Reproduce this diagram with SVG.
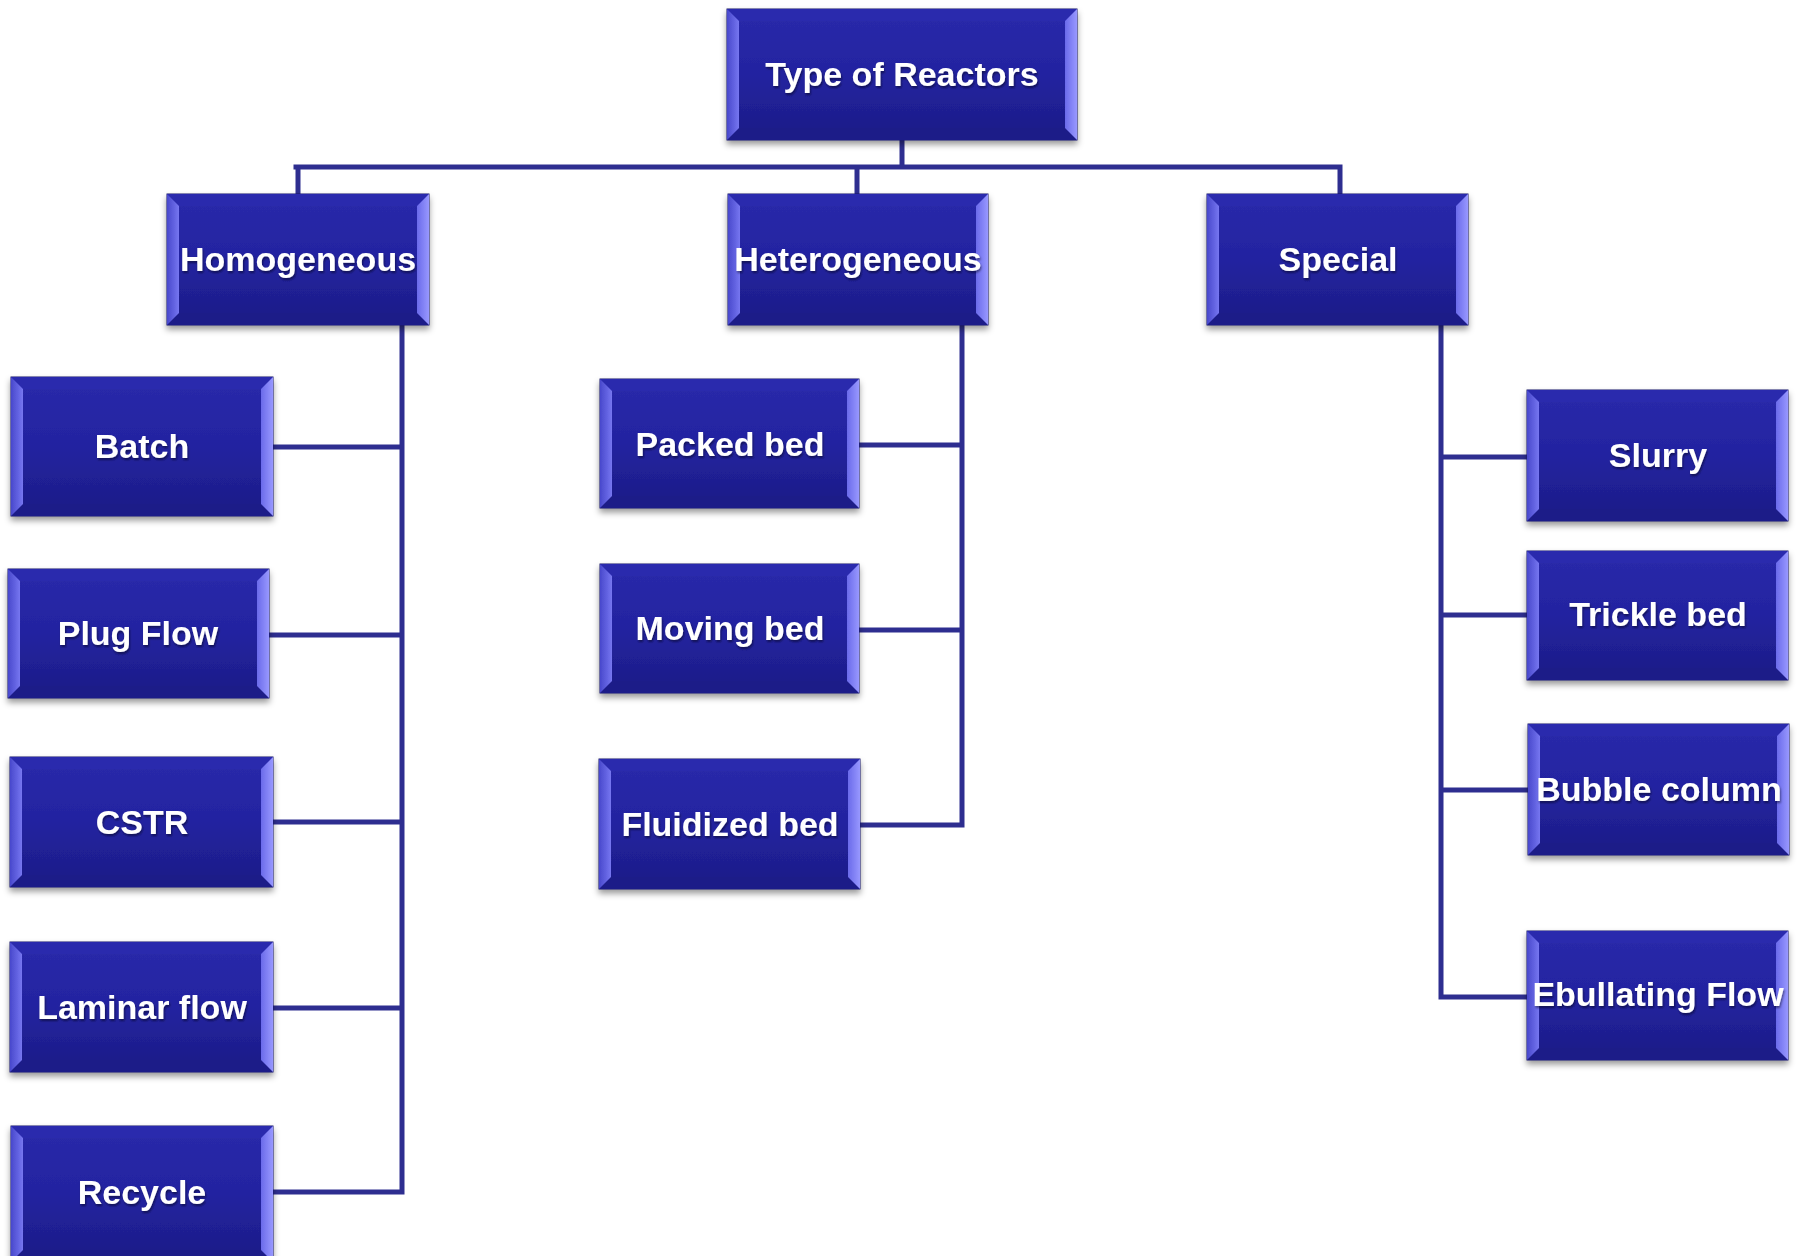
<svg xmlns="http://www.w3.org/2000/svg" width="1806" height="1256" viewBox="0 0 1806 1256">
<defs>
<linearGradient id="body" x1="0" y1="0" x2="0" y2="1">
<stop offset="0" stop-color="#2a2aaa"/>
<stop offset="0.5" stop-color="#2323a0"/>
<stop offset="1" stop-color="#1c1c86"/>
</linearGradient>
<linearGradient id="lbev" x1="0" y1="0" x2="1" y2="0">
<stop offset="0" stop-color="#4848cc"/>
<stop offset="1" stop-color="#7676f0"/>
</linearGradient>
<linearGradient id="rbev" x1="0" y1="0" x2="1" y2="0">
<stop offset="0" stop-color="#6a6aea"/>
<stop offset="1" stop-color="#9898ff"/>
</linearGradient>
<filter id="sh" x="-10%" y="-10%" width="120%" height="130%">
<feDropShadow dx="0" dy="4" stdDeviation="3" flood-color="#000" flood-opacity="0.4"/>
</filter>
<filter id="tsh" x="-5%" y="-20%" width="110%" height="150%">
<feDropShadow dx="1" dy="2" stdDeviation="1" flood-color="#000" flood-opacity="0.45"/>
</filter>
</defs>
<style>
.conn{fill:none;stroke:#2e2e90;stroke-width:5;stroke-linecap:square}
.box{fill:url(#body);stroke:#1a1a6a;stroke-width:1}
.tb{fill:#2b2bad}
.bb{fill:#1e1e88}
.lb{fill:url(#lbev)}
.rb{fill:url(#rbev)}
.lbl{font-family:"Liberation Sans",Arial,sans-serif;font-weight:bold;font-size:34px;fill:#fff;text-anchor:middle;filter:url(#tsh)}
</style>
<rect width="1806" height="1256" fill="#fff"/>
<g id="connectors">
<path class="conn" d="M902 140V167M296 167H1340M298 167V194M857 167V194M1340 167V194"/>
<path class="conn" d="M402 325V1192H273M273 447H402M268 635H402M273 822H402M273 1008H402"/>
<path class="conn" d="M962 325V825H860M859 445H962M859 630H962"/>
<path class="conn" d="M1441 325V997H1527M1441 457H1527M1441 615H1527M1441 790H1528"/>
</g>
<g id="n-root" filter="url(#sh)"><rect class="box" x="727" y="9" width="350" height="131"/><polygon class="tb" points="727,9 1077,9 1065,21 739,21"/><polygon class="bb" points="727,140 1077,140 1065,128 739,128"/><polygon class="lb" points="727,9 739,21 739,128 727,140"/><polygon class="rb" points="1077,9 1065,21 1065,128 1077,140"/><text class="lbl" x="902" y="86">Type of Reactors</text></g>
<g id="n-homogeneous" filter="url(#sh)"><rect class="box" x="167" y="194" width="262" height="131"/><polygon class="tb" points="167,194 429,194 417,206 179,206"/><polygon class="bb" points="167,325 429,325 417,313 179,313"/><polygon class="lb" points="167,194 179,206 179,313 167,325"/><polygon class="rb" points="429,194 417,206 417,313 429,325"/><text class="lbl" x="298" y="271">Homogeneous</text></g>
<g id="n-heterogeneous" filter="url(#sh)"><rect class="box" x="728" y="194" width="260" height="131"/><polygon class="tb" points="728,194 988,194 976,206 740,206"/><polygon class="bb" points="728,325 988,325 976,313 740,313"/><polygon class="lb" points="728,194 740,206 740,313 728,325"/><polygon class="rb" points="988,194 976,206 976,313 988,325"/><text class="lbl" x="858" y="271">Heterogeneous</text></g>
<g id="n-special" filter="url(#sh)"><rect class="box" x="1207" y="194" width="261" height="131"/><polygon class="tb" points="1207,194 1468,194 1456,206 1219,206"/><polygon class="bb" points="1207,325 1468,325 1456,313 1219,313"/><polygon class="lb" points="1207,194 1219,206 1219,313 1207,325"/><polygon class="rb" points="1468,194 1456,206 1456,313 1468,325"/><text class="lbl" x="1338" y="271">Special</text></g>
<g id="n-batch" filter="url(#sh)"><rect class="box" x="11" y="377" width="262" height="139"/><polygon class="tb" points="11,377 273,377 261,389 23,389"/><polygon class="bb" points="11,516 273,516 261,504 23,504"/><polygon class="lb" points="11,377 23,389 23,504 11,516"/><polygon class="rb" points="273,377 261,389 261,504 273,516"/><text class="lbl" x="142" y="458">Batch</text></g>
<g id="n-plugflow" filter="url(#sh)"><rect class="box" x="8" y="569" width="261" height="129"/><polygon class="tb" points="8,569 269,569 257,581 20,581"/><polygon class="bb" points="8,698 269,698 257,686 20,686"/><polygon class="lb" points="8,569 20,581 20,686 8,698"/><polygon class="rb" points="269,569 257,581 257,686 269,698"/><text class="lbl" x="138" y="645">Plug Flow</text></g>
<g id="n-cstr" filter="url(#sh)"><rect class="box" x="10" y="757" width="263" height="130"/><polygon class="tb" points="10,757 273,757 261,769 22,769"/><polygon class="bb" points="10,887 273,887 261,875 22,875"/><polygon class="lb" points="10,757 22,769 22,875 10,887"/><polygon class="rb" points="273,757 261,769 261,875 273,887"/><text class="lbl" x="142" y="834">CSTR</text></g>
<g id="n-laminar" filter="url(#sh)"><rect class="box" x="10" y="942" width="263" height="130"/><polygon class="tb" points="10,942 273,942 261,954 22,954"/><polygon class="bb" points="10,1072 273,1072 261,1060 22,1060"/><polygon class="lb" points="10,942 22,954 22,1060 10,1072"/><polygon class="rb" points="273,942 261,954 261,1060 273,1072"/><text class="lbl" x="142" y="1019">Laminar flow</text></g>
<g id="n-recycle" filter="url(#sh)"><rect class="box" x="11" y="1126" width="262" height="136"/><polygon class="tb" points="11,1126 273,1126 261,1138 23,1138"/><polygon class="bb" points="11,1262 273,1262 261,1250 23,1250"/><polygon class="lb" points="11,1126 23,1138 23,1250 11,1262"/><polygon class="rb" points="273,1126 261,1138 261,1250 273,1262"/><text class="lbl" x="142" y="1204">Recycle</text></g>
<g id="n-packed" filter="url(#sh)"><rect class="box" x="600" y="379" width="259" height="129"/><polygon class="tb" points="600,379 859,379 847,391 612,391"/><polygon class="bb" points="600,508 859,508 847,496 612,496"/><polygon class="lb" points="600,379 612,391 612,496 600,508"/><polygon class="rb" points="859,379 847,391 847,496 859,508"/><text class="lbl" x="730" y="456">Packed bed</text></g>
<g id="n-moving" filter="url(#sh)"><rect class="box" x="600" y="564" width="259" height="129"/><polygon class="tb" points="600,564 859,564 847,576 612,576"/><polygon class="bb" points="600,693 859,693 847,681 612,681"/><polygon class="lb" points="600,564 612,576 612,681 600,693"/><polygon class="rb" points="859,564 847,576 847,681 859,693"/><text class="lbl" x="730" y="640">Moving bed</text></g>
<g id="n-fluidized" filter="url(#sh)"><rect class="box" x="599" y="759" width="261" height="130"/><polygon class="tb" points="599,759 860,759 848,771 611,771"/><polygon class="bb" points="599,889 860,889 848,877 611,877"/><polygon class="lb" points="599,759 611,771 611,877 599,889"/><polygon class="rb" points="860,759 848,771 848,877 860,889"/><text class="lbl" x="730" y="836">Fluidized bed</text></g>
<g id="n-slurry" filter="url(#sh)"><rect class="box" x="1527" y="390" width="261" height="131"/><polygon class="tb" points="1527,390 1788,390 1776,402 1539,402"/><polygon class="bb" points="1527,521 1788,521 1776,509 1539,509"/><polygon class="lb" points="1527,390 1539,402 1539,509 1527,521"/><polygon class="rb" points="1788,390 1776,402 1776,509 1788,521"/><text class="lbl" x="1658" y="467">Slurry</text></g>
<g id="n-trickle" filter="url(#sh)"><rect class="box" x="1527" y="551" width="261" height="129"/><polygon class="tb" points="1527,551 1788,551 1776,563 1539,563"/><polygon class="bb" points="1527,680 1788,680 1776,668 1539,668"/><polygon class="lb" points="1527,551 1539,563 1539,668 1527,680"/><polygon class="rb" points="1788,551 1776,563 1776,668 1788,680"/><text class="lbl" x="1658" y="626">Trickle bed</text></g>
<g id="n-bubble" filter="url(#sh)"><rect class="box" x="1528" y="724" width="261" height="131"/><polygon class="tb" points="1528,724 1789,724 1777,736 1540,736"/><polygon class="bb" points="1528,855 1789,855 1777,843 1540,843"/><polygon class="lb" points="1528,724 1540,736 1540,843 1528,855"/><polygon class="rb" points="1789,724 1777,736 1777,843 1789,855"/><text class="lbl" x="1659" y="801">Bubble column</text></g>
<g id="n-ebullating" filter="url(#sh)"><rect class="box" x="1527" y="931" width="261" height="129"/><polygon class="tb" points="1527,931 1788,931 1776,943 1539,943"/><polygon class="bb" points="1527,1060 1788,1060 1776,1048 1539,1048"/><polygon class="lb" points="1527,931 1539,943 1539,1048 1527,1060"/><polygon class="rb" points="1788,931 1776,943 1776,1048 1788,1060"/><text class="lbl" x="1658" y="1006">Ebullating Flow</text></g>
</svg>
